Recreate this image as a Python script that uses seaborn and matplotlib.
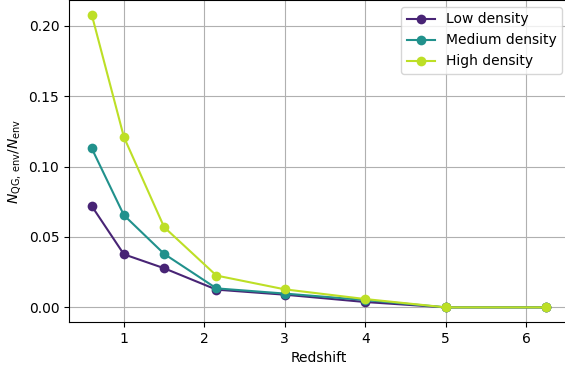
import matplotlib
matplotlib.use("Agg")
import matplotlib.pyplot as plt
import seaborn as sns
import pandas as pd

redshift = [0.6, 1.0, 1.5, 2.15, 3.0, 4.0, 5.0, 6.25]
low = [0.072, 0.0377, 0.0278, 0.0126, 0.009, 0.0038, 0.0, 0.0]
medium = [0.113, 0.0655, 0.038, 0.0135, 0.0098, 0.0052, 0.0, 0.0]
high = [0.208, 0.121, 0.057, 0.0226, 0.0128, 0.0059, 0.0, 0.0]
labels = ["Low density", "Medium density", "High density"]
colors = ["#482475", "#21918c", "#bddf26"]

rows = []
for lab, vals in zip(labels, [low, medium, high]):
    for z, v in zip(redshift, vals):
        rows.append({"Redshift": z, "frac": v, "env": lab})
df = pd.DataFrame(rows)

plt.rcParams["font.family"] = ["DejaVu Sans"]
fig = plt.figure(figsize=(5.65, 3.70), dpi=100)
ax = fig.add_axes([69 / 565, 1 - 322 / 370, 500 / 565, 322 / 370])

sns.lineplot(data=df, x="Redshift", y="frac", hue="env", hue_order=labels,
             palette=colors, marker="o", markersize=7, markeredgewidth=0,
             linewidth=1.5, ax=ax)
ax.grid(True, color="#b0b0b0", linewidth=0.8)
ax.set_axisbelow(True)
ax.set_xlabel("Redshift")
ax.set_ylabel(r"$N_{\rm QG,\,env}/N_{\rm env}$")
ax.set_xticks([1, 2, 3, 4, 5, 6])
ax.set_yticks([0.0, 0.05, 0.10, 0.15, 0.20])
ax.set_xlim(0.3175, 6.5325)
ax.set_ylim(-0.0104, 0.2184)
ax.legend(loc="upper right", title=None)

fig.savefig("out.png", dpi=100)
